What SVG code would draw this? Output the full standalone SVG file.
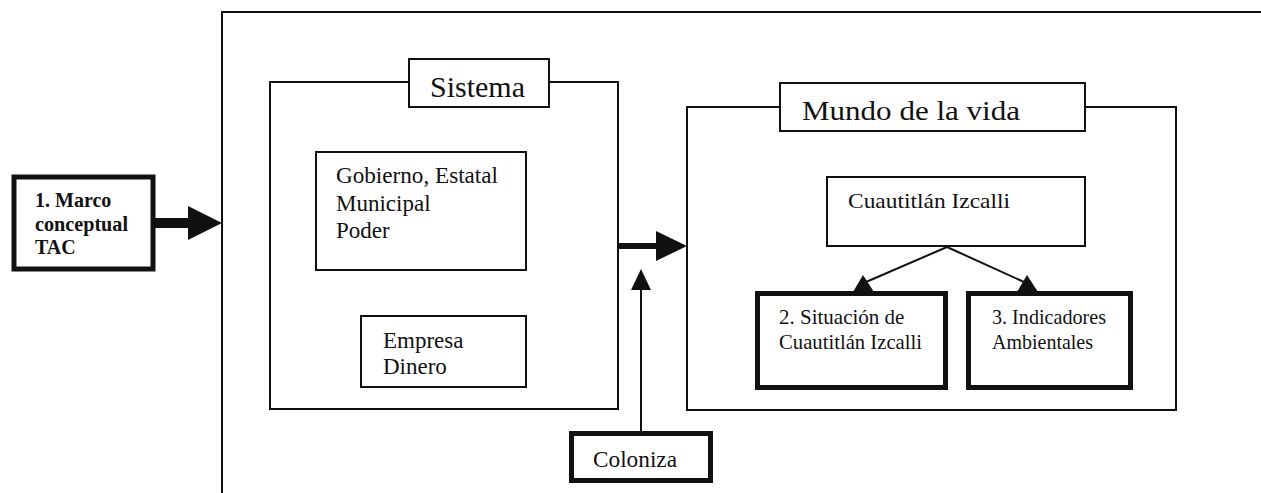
<svg xmlns="http://www.w3.org/2000/svg" width="1261" height="493" viewBox="0 0 1261 493">
<style>
  .thin { fill: #fff; stroke: #111; stroke-width: 2; }
  .thick { fill: #fff; stroke: #111; stroke-width: 5; }
  .t { font-family: "Liberation Serif", "Times New Roman", serif; fill: #111; }
  .b { font-weight: bold; }
  .ln { stroke: #111; fill: none; }
  .head { fill: #111; stroke: none; }
</style>
<rect width="1261" height="493" fill="#fff"/>
<g id="frame">
  <path class="ln" stroke-width="2" d="M222,493 V12 H1261"/>
</g>
<g id="sistema">
  <rect class="thin" x="270" y="82" width="348" height="327"/>
  <rect class="thin" x="409" y="59" width="140" height="48"/>
  <text class="t" x="430" y="97" font-size="30" textLength="95" lengthAdjust="spacingAndGlyphs">Sistema</text>
</g>
<g id="gobierno">
  <rect class="thin" x="316" y="152" width="210" height="118"/>
  <text class="t" font-size="23" x="336" y="183" textLength="162" lengthAdjust="spacingAndGlyphs">Gobierno, Estatal</text>
  <text class="t" font-size="23" x="336" y="211">Municipal</text>
  <text class="t" font-size="23" x="336" y="238">Poder</text>
</g>
<g id="empresa">
  <rect class="thin" x="361" y="316" width="165" height="71"/>
  <text class="t" font-size="23" x="383" y="348">Empresa</text>
  <text class="t" font-size="23" x="383" y="374">Dinero</text>
</g>
<g id="mundo">
  <rect class="thin" x="687" y="107" width="489" height="303"/>
  <rect class="thin" x="780" y="83" width="305" height="48"/>
  <text class="t" x="802" y="120" font-size="28" textLength="218" lengthAdjust="spacingAndGlyphs">Mundo de la vida</text>
</g>
<g id="cuautitlan">
  <rect class="thin" x="827" y="177" width="258" height="69"/>
  <text class="t" font-size="22" x="848" y="208" textLength="162" lengthAdjust="spacingAndGlyphs">Cuautitlán Izcalli</text>
</g>
<g id="situacion">
  <rect class="thick" x="757.5" y="293.5" width="188" height="94"/>
  <text class="t" font-size="21" x="779" y="324">2. Situación de</text>
  <text class="t" font-size="21" x="779" y="349" textLength="143" lengthAdjust="spacingAndGlyphs">Cuautitlán Izcalli</text>
</g>
<g id="indicadores">
  <rect class="thick" x="968.5" y="293.5" width="162" height="94"/>
  <text class="t" font-size="21" x="992" y="324" textLength="114" lengthAdjust="spacingAndGlyphs">3. Indicadores</text>
  <text class="t" font-size="21" x="992" y="349" textLength="101" lengthAdjust="spacingAndGlyphs">Ambientales</text>
</g>
<g id="marco">
  <rect class="thick" x="14" y="177" width="139" height="92"/>
  <text class="t b" font-size="20" x="35" y="207">1. Marco</text>
  <text class="t b" font-size="20" x="35" y="231" textLength="93" lengthAdjust="spacingAndGlyphs">conceptual</text>
  <text class="t b" font-size="20" x="35" y="254">TAC</text>
</g>
<g id="coloniza">
  <rect class="thick" x="571.5" y="433.5" width="139" height="47"/>
  <text class="t" font-size="23" x="593" y="467" textLength="84" lengthAdjust="spacingAndGlyphs">Coloniza</text>
</g>
<g id="connectors">
  <line class="ln" stroke-width="10" x1="155" y1="223" x2="190" y2="223"/>
  <polygon class="head" points="188,206 222,223 188,240"/>
  <line class="ln" stroke-width="6" x1="618" y1="246" x2="658" y2="246"/>
  <polygon class="head" points="656,231 687,246 656,261"/>
  <line class="ln" stroke-width="2" x1="641" y1="431" x2="641" y2="285"/>
  <polygon class="head" points="631,290 641,269 651,290"/>
  <line class="ln" stroke-width="2" x1="947" y1="247" x2="866" y2="282"/>
  <polygon class="head" points="853,292 863,275 874,292"/>
  <line class="ln" stroke-width="2" x1="947" y1="247" x2="1024" y2="282"/>
  <polygon class="head" points="1017,292 1027,275 1038,292"/>
</g>
</svg>
